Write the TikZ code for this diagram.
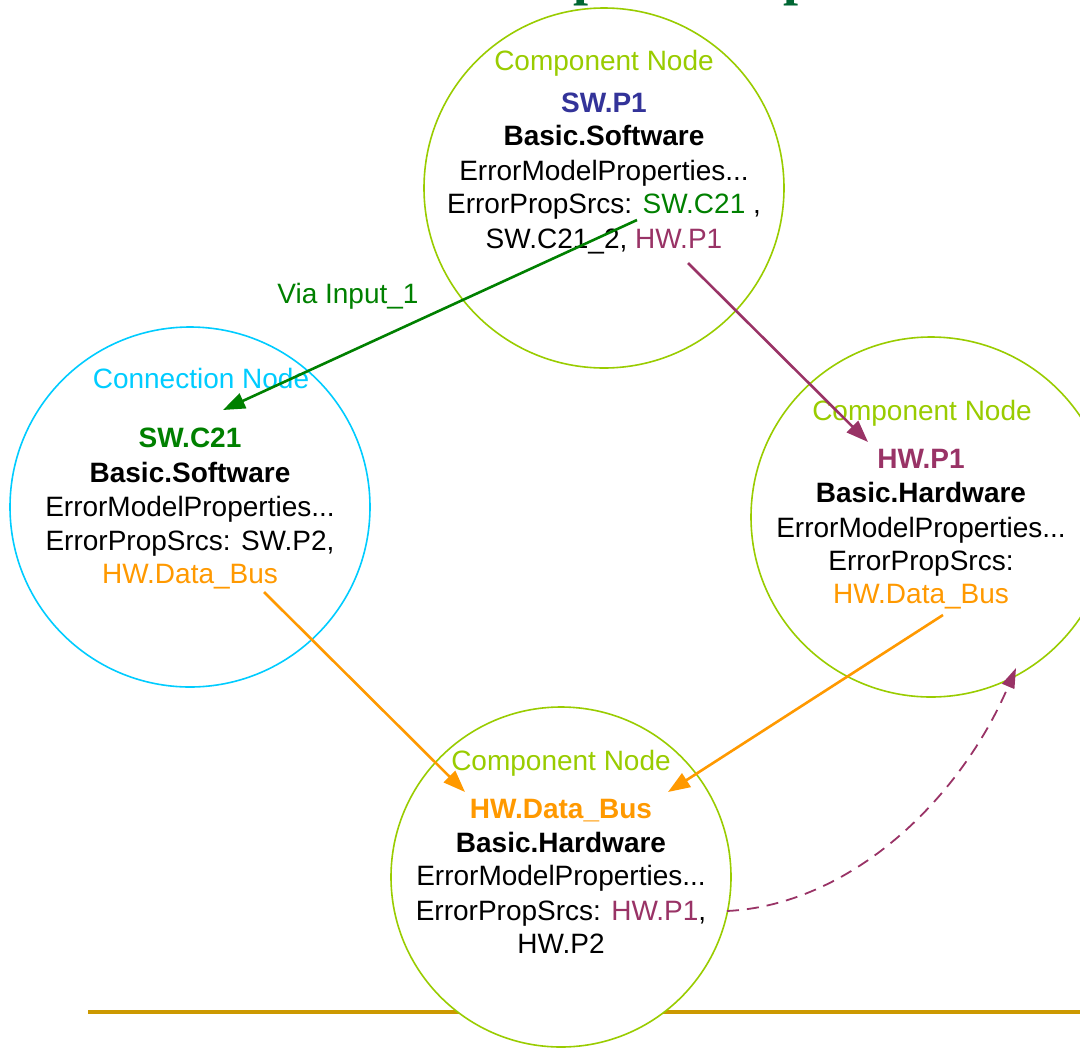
\documentclass[tikz,border=0pt]{standalone}
\usepackage{fontspec}
\setmainfont{Liberation Sans}
\newfontfamily\titlefont{Liberation Serif}
\usetikzlibrary{arrows.meta}
\definecolor{compgreen}{HTML}{99CC00}
\definecolor{conncyan}{HTML}{00CCFF}
\definecolor{swblue}{HTML}{333399}
\definecolor{linkgreen}{HTML}{008000}
\definecolor{hwpurple}{HTML}{993366}
\definecolor{busorange}{HTML}{FF9900}
\definecolor{rulegold}{HTML}{CC9900}
\definecolor{titlegreen}{HTML}{006633}

\begin{document}
\begin{tikzpicture}[x=1pt,y=-1pt,
  txt/.style={anchor=base,inner sep=0pt,font=\fontsize{28}{34}\selectfont},
  ttl/.style={anchor=base,inner sep=0pt,font=\fontsize{28}{34}\selectfont\bfseries},
  comp/.style={circle,draw=compgreen,fill=white,line width=1.6pt,minimum size=#1,inner sep=0pt},
  conn/.style={circle,draw=conncyan,fill=white,line width=1.6pt,minimum size=#1,inner sep=0pt},
  flow/.style={line width=2.6pt,-{Triangle[length=22pt,width=16pt]}}]
  \useasboundingbox (0,0) rectangle (1080,1050);
  % title, only the descenders are left on the page
  \node[anchor=base west,inner sep=0pt,text=titlegreen,font=\titlefont\bfseries\fontsize{54}{60}\selectfont] (title1) at (573,-6) {p};
  \node[anchor=base west,inner sep=0pt,text=titlegreen,font=\titlefont\bfseries\fontsize{54}{60}\selectfont] (title2) at (783,-6) {p};
  \draw[rulegold,line width=4pt] (88,1012) -- (1080,1012);

  % the four nodes
  \node[comp=360pt] (swp1)  at (604,188) {};
  \node[conn=360pt] (swc21) at (190,507) {};
  \node[comp=360pt] (hwp1)  at (931,517) {};
  \node[comp=340pt] (hwbus) at (561,877) {};

  % SW.P1
  \node[txt,compgreen] (swp1-kind)  at (604,70)  {Component Node};
  \node[ttl,swblue]    (swp1-name)  at (604,112) {SW.P1};
  \node[ttl]           (swp1-type)  at (604,145) {Basic.Software};
  \node[txt]           (swp1-props) at (604,180) {ErrorModelProperties...};
  \node[txt]           (swp1-srcs)  at (604,213) {ErrorPropSrcs: \textcolor{linkgreen}{SW.C21} ,};
  \node[txt]           (swp1-more)  at (604,248) {SW.C21\_2, \textcolor{hwpurple}{HW.P1}};

  % SW.C21
  \node[txt,conncyan]  (swc21-kind)  at (201,388) {Connection Node};
  \node[ttl,linkgreen] (swc21-name)  at (190,447) {SW.C21};
  \node[ttl]           (swc21-type)  at (190,482) {Basic.Software};
  \node[txt]           (swc21-props) at (190,516) {ErrorModelProperties...};
  \node[txt]           (swc21-srcs)  at (190,550) {ErrorPropSrcs: SW.P2,};
  \node[txt,busorange] (swc21-more)  at (190,583) {HW.Data\_Bus};

  % HW.P1
  \node[txt,compgreen] (hwp1-kind)  at (922,420) {Component Node};
  \node[ttl,hwpurple]  (hwp1-name)  at (921,468) {HW.P1};
  \node[ttl]           (hwp1-type)  at (921,502) {Basic.Hardware};
  \node[txt]           (hwp1-props) at (921,537) {ErrorModelProperties...};
  \node[txt]           (hwp1-srcs)  at (921,570) {ErrorPropSrcs:};
  \node[txt,busorange] (hwp1-more)  at (921,603) {HW.Data\_Bus};

  % HW.Data_Bus
  \node[txt,compgreen] (hwbus-kind)  at (561,770) {Component Node};
  \node[ttl,busorange] (hwbus-name)  at (561,818) {HW.Data\_Bus};
  \node[ttl]           (hwbus-type)  at (561,852) {Basic.Hardware};
  \node[txt]           (hwbus-props) at (561,885) {ErrorModelProperties...};
  \node[txt]           (hwbus-srcs)  at (561,920) {ErrorPropSrcs: \textcolor{hwpurple}{HW.P1},};
  \node[txt]           (hwbus-more)  at (561,953) {HW.P2};

  % ends of the links
  \coordinate (swp1-out1)  at (637,220);
  \coordinate (swp1-out2)  at (688,263);
  \coordinate (swc21-in)   at (223,410);
  \coordinate (swc21-out)  at (264,592);
  \coordinate (hwp1-in1)   at (868,442);
  \coordinate (hwp1-out)   at (943,615);
  \coordinate (hwp1-in2)   at (1016,668);
  \coordinate (hwbus-in1)  at (465,792);
  \coordinate (hwbus-in2)  at (668,792);
  \coordinate (hwbus-out)  at (727,911);

  \draw[flow,linkgreen] (swp1-out1) -- (swc21-in);
  \node[txt,linkgreen] (via) at (348,303) {Via Input\_1};
  \draw[flow,hwpurple]  (swp1-out2) -- (hwp1-in1);
  \draw[flow,busorange] (swc21-out) -- (hwbus-in1);
  \draw[flow,busorange] (hwp1-out)  -- (hwbus-in2);
  \draw[hwpurple,line width=1.8pt,dash pattern=on 12pt off 8pt,-{Triangle[length=20pt,width=13pt]}]
    (hwbus-out) .. controls (850,905) and (960,800) .. (hwp1-in2);
\end{tikzpicture}
\end{document}
